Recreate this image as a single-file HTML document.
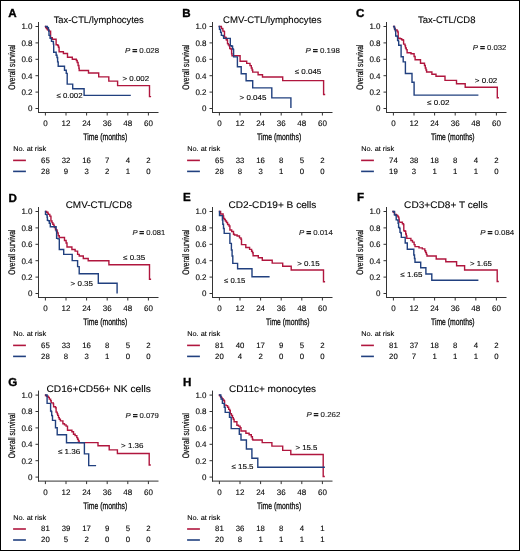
<!DOCTYPE html>
<html><head><meta charset="utf-8"><style>
html,body{margin:0;padding:0;background:#fff;}
body{width:520px;height:551px;overflow:hidden;}
svg{display:block;font-family:'Liberation Sans', sans-serif;will-change:transform;}
text{stroke:#1a1a1a;stroke-width:0.12px;text-rendering:geometricPrecision;}
</style></head><body>
<svg width="520" height="551" viewBox="0 0 520 551">
<rect x="0" y="0" width="520" height="551" fill="#fff"/>
<rect x="0.5" y="0.5" width="519" height="550" fill="none" stroke="#000" stroke-width="1"/>
<text x="8.20" y="17.30" font-size="11.6" font-weight="bold" fill="#000" style="stroke:#000;stroke-width:0.35px">A</text>
<text x="53.70" y="23.00" font-size="9.6" textLength="90.00" lengthAdjust="spacingAndGlyphs">Tax-CTL/lymphocytes</text>
<line x1="38.50" y1="22.00" x2="38.50" y2="113.00" stroke="#333333" stroke-width="1"/>
<line x1="38.00" y1="112.50" x2="158.50" y2="112.50" stroke="#333333" stroke-width="1"/>
<line x1="35.50" y1="108.50" x2="38.50" y2="108.50" stroke="#333333" stroke-width="1"/>
<text x="32.50" y="111.30" font-size="8.0" text-anchor="end">0</text>
<line x1="35.50" y1="92.10" x2="38.50" y2="92.10" stroke="#333333" stroke-width="1"/>
<text x="32.50" y="94.90" font-size="8.0" text-anchor="end">0.2</text>
<line x1="35.50" y1="75.70" x2="38.50" y2="75.70" stroke="#333333" stroke-width="1"/>
<text x="32.50" y="78.50" font-size="8.0" text-anchor="end">0.4</text>
<line x1="35.50" y1="59.30" x2="38.50" y2="59.30" stroke="#333333" stroke-width="1"/>
<text x="32.50" y="62.10" font-size="8.0" text-anchor="end">0.6</text>
<line x1="35.50" y1="42.90" x2="38.50" y2="42.90" stroke="#333333" stroke-width="1"/>
<text x="32.50" y="45.70" font-size="8.0" text-anchor="end">0.8</text>
<line x1="35.50" y1="26.50" x2="38.50" y2="26.50" stroke="#333333" stroke-width="1"/>
<text x="32.50" y="29.30" font-size="8.0" text-anchor="end">1.0</text>
<line x1="45.40" y1="112.50" x2="45.40" y2="115.50" stroke="#333333" stroke-width="1"/>
<text x="45.40" y="126.30" font-size="8.0" text-anchor="middle">0</text>
<line x1="66.00" y1="112.50" x2="66.00" y2="115.50" stroke="#333333" stroke-width="1"/>
<text x="66.00" y="126.30" font-size="8.0" text-anchor="middle">12</text>
<line x1="86.60" y1="112.50" x2="86.60" y2="115.50" stroke="#333333" stroke-width="1"/>
<text x="86.60" y="126.30" font-size="8.0" text-anchor="middle">24</text>
<line x1="107.20" y1="112.50" x2="107.20" y2="115.50" stroke="#333333" stroke-width="1"/>
<text x="107.20" y="126.30" font-size="8.0" text-anchor="middle">36</text>
<line x1="127.80" y1="112.50" x2="127.80" y2="115.50" stroke="#333333" stroke-width="1"/>
<text x="127.80" y="126.30" font-size="8.0" text-anchor="middle">48</text>
<line x1="148.40" y1="112.50" x2="148.40" y2="115.50" stroke="#333333" stroke-width="1"/>
<text x="148.40" y="126.30" font-size="8.0" text-anchor="middle">60</text>
<text x="0.00" y="0.00" font-size="9.5" text-anchor="middle" textLength="45.20" lengthAdjust="spacingAndGlyphs" style="stroke-width:0.22px" transform="translate(15.20 67.10) rotate(-90)">Overall survival</text>
<text x="83.30" y="139.80" font-size="9.6" textLength="44.00" lengthAdjust="spacingAndGlyphs" style="stroke-width:0.3px">Time (months)</text>
<text x="125.00" y="53.00" font-size="7.2" textLength="34.15" lengthAdjust="spacingAndGlyphs" fill="#1a1a1a"><tspan font-style="italic">P</tspan> <tspan style="stroke-width:0.7px">=</tspan> 0.028</text>
<text x="122.50" y="80.60" font-size="7.2" textLength="26.65" lengthAdjust="spacingAndGlyphs">&gt; 0.002</text>
<text x="56.50" y="98.00" font-size="7.2" textLength="26.10" lengthAdjust="spacingAndGlyphs">≤ 0.002</text>
<path d="M45.50 26.50H45.70V27.50H46.50V28.50H47.30V29.50H48.20V30.30H49.20V31.10H50.60V37.60H52.30V39.20H56.10V44.70H57.70V45.50H58.50V47.20H59.10V51.75H63.40V53.50H67.50V57.20H72.30V59.25H76.35V60.50H77.20V62.50H78.10V65.50H78.90V68.20H79.20V70.50H88.50V73.00H98.70V76.90H108.80V81.10H117.60V85.60H149.50V96.60h0.9" fill="none" stroke="#b0163e" stroke-width="1.4" stroke-linejoin="miter" stroke-linecap="square"/>
<path d="M45.60 26.50H46.80V26.50H47.40V27.80H48.40V29.40H48.70V31.10H49.00V35.40H50.10V38.40H51.30V38.70H51.50V41.40H53.20V41.70H53.40V44.10H53.70V52.30H56.15V55.20H57.00V57.50H57.60V61.85H58.20V66.20H64.50V70.20H66.25V73.40H67.20V84.10H72.70V88.70H84.10V95.40H130.10" fill="none" stroke="#21407f" stroke-width="1.4" stroke-linejoin="miter" stroke-linecap="square"/>
<text x="13.20" y="151.40" font-size="7.0" textLength="33.00" lengthAdjust="spacingAndGlyphs">No. at risk</text>
<line x1="13.10" y1="160.40" x2="25.90" y2="160.40" stroke="#b0163e" stroke-width="1.6"/>
<line x1="13.10" y1="171.40" x2="25.90" y2="171.40" stroke="#21407f" stroke-width="1.6"/>
<text x="45.40" y="162.50" font-size="7.8" text-anchor="middle">65</text>
<text x="45.40" y="173.50" font-size="7.8" text-anchor="middle">28</text>
<text x="66.00" y="162.50" font-size="7.8" text-anchor="middle">32</text>
<text x="66.00" y="173.50" font-size="7.8" text-anchor="middle">9</text>
<text x="86.60" y="162.50" font-size="7.8" text-anchor="middle">16</text>
<text x="86.60" y="173.50" font-size="7.8" text-anchor="middle">3</text>
<text x="107.20" y="162.50" font-size="7.8" text-anchor="middle">7</text>
<text x="107.20" y="173.50" font-size="7.8" text-anchor="middle">2</text>
<text x="127.80" y="162.50" font-size="7.8" text-anchor="middle">4</text>
<text x="127.80" y="173.50" font-size="7.8" text-anchor="middle">1</text>
<text x="148.40" y="162.50" font-size="7.8" text-anchor="middle">2</text>
<text x="148.40" y="173.50" font-size="7.8" text-anchor="middle">0</text>
<text x="182.20" y="17.20" font-size="11.6" font-weight="bold" fill="#000" style="stroke:#000;stroke-width:0.35px">B</text>
<text x="223.10" y="23.10" font-size="9.6" textLength="98.40" lengthAdjust="spacingAndGlyphs">CMV-CTL/lymphocytes</text>
<line x1="212.50" y1="22.00" x2="212.50" y2="113.00" stroke="#333333" stroke-width="1"/>
<line x1="212.00" y1="112.50" x2="332.50" y2="112.50" stroke="#333333" stroke-width="1"/>
<line x1="209.50" y1="108.50" x2="212.50" y2="108.50" stroke="#333333" stroke-width="1"/>
<text x="206.50" y="111.30" font-size="8.0" text-anchor="end">0</text>
<line x1="209.50" y1="92.10" x2="212.50" y2="92.10" stroke="#333333" stroke-width="1"/>
<text x="206.50" y="94.90" font-size="8.0" text-anchor="end">0.2</text>
<line x1="209.50" y1="75.70" x2="212.50" y2="75.70" stroke="#333333" stroke-width="1"/>
<text x="206.50" y="78.50" font-size="8.0" text-anchor="end">0.4</text>
<line x1="209.50" y1="59.30" x2="212.50" y2="59.30" stroke="#333333" stroke-width="1"/>
<text x="206.50" y="62.10" font-size="8.0" text-anchor="end">0.6</text>
<line x1="209.50" y1="42.90" x2="212.50" y2="42.90" stroke="#333333" stroke-width="1"/>
<text x="206.50" y="45.70" font-size="8.0" text-anchor="end">0.8</text>
<line x1="209.50" y1="26.50" x2="212.50" y2="26.50" stroke="#333333" stroke-width="1"/>
<text x="206.50" y="29.30" font-size="8.0" text-anchor="end">1.0</text>
<line x1="219.40" y1="112.50" x2="219.40" y2="115.50" stroke="#333333" stroke-width="1"/>
<text x="219.40" y="126.30" font-size="8.0" text-anchor="middle">0</text>
<line x1="240.00" y1="112.50" x2="240.00" y2="115.50" stroke="#333333" stroke-width="1"/>
<text x="240.00" y="126.30" font-size="8.0" text-anchor="middle">12</text>
<line x1="260.60" y1="112.50" x2="260.60" y2="115.50" stroke="#333333" stroke-width="1"/>
<text x="260.60" y="126.30" font-size="8.0" text-anchor="middle">24</text>
<line x1="281.20" y1="112.50" x2="281.20" y2="115.50" stroke="#333333" stroke-width="1"/>
<text x="281.20" y="126.30" font-size="8.0" text-anchor="middle">36</text>
<line x1="301.80" y1="112.50" x2="301.80" y2="115.50" stroke="#333333" stroke-width="1"/>
<text x="301.80" y="126.30" font-size="8.0" text-anchor="middle">48</text>
<line x1="322.40" y1="112.50" x2="322.40" y2="115.50" stroke="#333333" stroke-width="1"/>
<text x="322.40" y="126.30" font-size="8.0" text-anchor="middle">60</text>
<text x="0.00" y="0.00" font-size="9.5" text-anchor="middle" textLength="45.20" lengthAdjust="spacingAndGlyphs" style="stroke-width:0.22px" transform="translate(189.20 67.10) rotate(-90)">Overall survival</text>
<text x="257.00" y="139.60" font-size="9.6" textLength="44.20" lengthAdjust="spacingAndGlyphs" style="stroke-width:0.3px">Time (months)</text>
<text x="305.60" y="52.90" font-size="7.2" textLength="34.30" lengthAdjust="spacingAndGlyphs" fill="#1a1a1a"><tspan font-style="italic">P</tspan> <tspan style="stroke-width:0.7px">=</tspan> 0.198</text>
<text x="294.70" y="74.40" font-size="7.2" textLength="26.60" lengthAdjust="spacingAndGlyphs">≤ 0.045</text>
<text x="239.60" y="99.75" font-size="7.2" textLength="26.80" lengthAdjust="spacingAndGlyphs">&gt; 0.045</text>
<path d="M219.30 26.50H221.40V28.40H222.60V28.90H222.90V31.10H224.20V31.60H224.50V37.10H225.80V37.60H226.20V39.80H227.20V40.30H227.50V43.60H228.30V44.70H229.10V45.80H229.70V48.50H231.10V49.30H231.60V53.70H232.00V55.80H240.10V61.20H246.70V63.40H250.00V65.60H251.30V68.00H252.10V70.00H252.70V72.10H258.10V74.80H262.50V77.00H282.70V80.60H323.60V94.50h0.9" fill="none" stroke="#b0163e" stroke-width="1.4" stroke-linejoin="miter" stroke-linecap="square"/>
<path d="M219.30 26.50H219.50V29.40H220.40V29.70H220.60V32.40H221.40V32.70H221.40V35.40H223.10V35.70H223.60V38.40H230.30V45.80H231.80V46.30H232.60V49.00H233.40V49.60H233.60V56.90H237.40V66.70H241.20V73.70H246.10V80.80H252.70V87.90H271.80V97.90H290.90V107.40" fill="none" stroke="#21407f" stroke-width="1.4" stroke-linejoin="miter" stroke-linecap="square"/>
<text x="187.20" y="151.40" font-size="7.0" textLength="33.00" lengthAdjust="spacingAndGlyphs">No. at risk</text>
<line x1="187.10" y1="160.40" x2="199.90" y2="160.40" stroke="#b0163e" stroke-width="1.6"/>
<line x1="187.10" y1="171.40" x2="199.90" y2="171.40" stroke="#21407f" stroke-width="1.6"/>
<text x="219.40" y="162.50" font-size="7.8" text-anchor="middle">65</text>
<text x="219.40" y="173.50" font-size="7.8" text-anchor="middle">28</text>
<text x="240.00" y="162.50" font-size="7.8" text-anchor="middle">33</text>
<text x="240.00" y="173.50" font-size="7.8" text-anchor="middle">8</text>
<text x="260.60" y="162.50" font-size="7.8" text-anchor="middle">16</text>
<text x="260.60" y="173.50" font-size="7.8" text-anchor="middle">3</text>
<text x="281.20" y="162.50" font-size="7.8" text-anchor="middle">8</text>
<text x="281.20" y="173.50" font-size="7.8" text-anchor="middle">1</text>
<text x="301.80" y="162.50" font-size="7.8" text-anchor="middle">5</text>
<text x="301.80" y="173.50" font-size="7.8" text-anchor="middle">0</text>
<text x="322.40" y="162.50" font-size="7.8" text-anchor="middle">2</text>
<text x="322.40" y="173.50" font-size="7.8" text-anchor="middle">0</text>
<text x="355.90" y="17.40" font-size="11.6" font-weight="bold" fill="#000" style="stroke:#000;stroke-width:0.35px">C</text>
<text x="418.00" y="23.40" font-size="9.6" textLength="57.40" lengthAdjust="spacingAndGlyphs">Tax-CTL/CD8</text>
<line x1="386.50" y1="22.00" x2="386.50" y2="113.00" stroke="#333333" stroke-width="1"/>
<line x1="386.00" y1="112.50" x2="506.50" y2="112.50" stroke="#333333" stroke-width="1"/>
<line x1="383.50" y1="108.50" x2="386.50" y2="108.50" stroke="#333333" stroke-width="1"/>
<text x="380.50" y="111.30" font-size="8.0" text-anchor="end">0</text>
<line x1="383.50" y1="92.10" x2="386.50" y2="92.10" stroke="#333333" stroke-width="1"/>
<text x="380.50" y="94.90" font-size="8.0" text-anchor="end">0.2</text>
<line x1="383.50" y1="75.70" x2="386.50" y2="75.70" stroke="#333333" stroke-width="1"/>
<text x="380.50" y="78.50" font-size="8.0" text-anchor="end">0.4</text>
<line x1="383.50" y1="59.30" x2="386.50" y2="59.30" stroke="#333333" stroke-width="1"/>
<text x="380.50" y="62.10" font-size="8.0" text-anchor="end">0.6</text>
<line x1="383.50" y1="42.90" x2="386.50" y2="42.90" stroke="#333333" stroke-width="1"/>
<text x="380.50" y="45.70" font-size="8.0" text-anchor="end">0.8</text>
<line x1="383.50" y1="26.50" x2="386.50" y2="26.50" stroke="#333333" stroke-width="1"/>
<text x="380.50" y="29.30" font-size="8.0" text-anchor="end">1.0</text>
<line x1="393.40" y1="112.50" x2="393.40" y2="115.50" stroke="#333333" stroke-width="1"/>
<text x="393.40" y="126.30" font-size="8.0" text-anchor="middle">0</text>
<line x1="414.00" y1="112.50" x2="414.00" y2="115.50" stroke="#333333" stroke-width="1"/>
<text x="414.00" y="126.30" font-size="8.0" text-anchor="middle">12</text>
<line x1="434.60" y1="112.50" x2="434.60" y2="115.50" stroke="#333333" stroke-width="1"/>
<text x="434.60" y="126.30" font-size="8.0" text-anchor="middle">24</text>
<line x1="455.20" y1="112.50" x2="455.20" y2="115.50" stroke="#333333" stroke-width="1"/>
<text x="455.20" y="126.30" font-size="8.0" text-anchor="middle">36</text>
<line x1="475.80" y1="112.50" x2="475.80" y2="115.50" stroke="#333333" stroke-width="1"/>
<text x="475.80" y="126.30" font-size="8.0" text-anchor="middle">48</text>
<line x1="496.40" y1="112.50" x2="496.40" y2="115.50" stroke="#333333" stroke-width="1"/>
<text x="496.40" y="126.30" font-size="8.0" text-anchor="middle">60</text>
<text x="0.00" y="0.00" font-size="9.5" text-anchor="middle" textLength="45.20" lengthAdjust="spacingAndGlyphs" style="stroke-width:0.22px" transform="translate(363.20 67.10) rotate(-90)">Overall survival</text>
<text x="431.00" y="139.80" font-size="9.6" textLength="43.60" lengthAdjust="spacingAndGlyphs" style="stroke-width:0.3px">Time (months)</text>
<text x="472.80" y="50.20" font-size="7.2" textLength="33.60" lengthAdjust="spacingAndGlyphs" fill="#1a1a1a"><tspan font-style="italic">P</tspan> <tspan style="stroke-width:0.7px">=</tspan> 0.032</text>
<text x="474.80" y="83.30" font-size="7.2" textLength="22.50" lengthAdjust="spacingAndGlyphs">&gt; 0.02</text>
<text x="427.10" y="104.90" font-size="7.2" textLength="22.40" lengthAdjust="spacingAndGlyphs">≤ 0.02</text>
<path d="M393.60 26.50H394.50V28.50H395.20V30.00H397.10V31.10H397.90V32.20H398.20V38.20H400.10V38.70H401.70V39.80H403.10V40.30H403.60V44.10H405.00V45.80H405.50V48.00H406.30V49.60H407.10V52.70H411.00V53.70H414.10V56.50H415.10V59.80H420.50V63.20H424.50V65.50H425.30V68.00H426.00V70.00H426.60V72.00H431.90V74.30H436.00V76.30H445.00V80.40H456.50V83.80H465.20V87.30H497.30V97.70h0.9" fill="none" stroke="#b0163e" stroke-width="1.4" stroke-linejoin="miter" stroke-linecap="square"/>
<path d="M393.80 26.50H394.30V27.50H394.60V29.40H395.40V31.10H395.70V36.00H397.10V36.50H397.60V40.30H398.40V41.40H398.70V45.20H401.10V56.80H403.20V61.90H405.40V73.50H412.00V82.20H414.10V95.10H477.70" fill="none" stroke="#21407f" stroke-width="1.4" stroke-linejoin="miter" stroke-linecap="square"/>
<text x="361.20" y="151.40" font-size="7.0" textLength="33.00" lengthAdjust="spacingAndGlyphs">No. at risk</text>
<line x1="361.10" y1="160.40" x2="373.90" y2="160.40" stroke="#b0163e" stroke-width="1.6"/>
<line x1="361.10" y1="171.40" x2="373.90" y2="171.40" stroke="#21407f" stroke-width="1.6"/>
<text x="393.40" y="162.50" font-size="7.8" text-anchor="middle">74</text>
<text x="393.40" y="173.50" font-size="7.8" text-anchor="middle">19</text>
<text x="414.00" y="162.50" font-size="7.8" text-anchor="middle">38</text>
<text x="414.00" y="173.50" font-size="7.8" text-anchor="middle">3</text>
<text x="434.60" y="162.50" font-size="7.8" text-anchor="middle">18</text>
<text x="434.60" y="173.50" font-size="7.8" text-anchor="middle">1</text>
<text x="455.20" y="162.50" font-size="7.8" text-anchor="middle">8</text>
<text x="455.20" y="173.50" font-size="7.8" text-anchor="middle">1</text>
<text x="475.80" y="162.50" font-size="7.8" text-anchor="middle">4</text>
<text x="475.80" y="173.50" font-size="7.8" text-anchor="middle">1</text>
<text x="496.40" y="162.50" font-size="7.8" text-anchor="middle">2</text>
<text x="496.40" y="173.50" font-size="7.8" text-anchor="middle">0</text>
<text x="8.50" y="202.00" font-size="11.6" font-weight="bold" fill="#000" style="stroke:#000;stroke-width:0.35px">D</text>
<text x="65.70" y="208.20" font-size="9.6" textLength="66.30" lengthAdjust="spacingAndGlyphs">CMV-CTL/CD8</text>
<line x1="38.50" y1="207.00" x2="38.50" y2="298.00" stroke="#333333" stroke-width="1"/>
<line x1="38.00" y1="297.50" x2="158.50" y2="297.50" stroke="#333333" stroke-width="1"/>
<line x1="35.50" y1="293.50" x2="38.50" y2="293.50" stroke="#333333" stroke-width="1"/>
<text x="32.50" y="296.30" font-size="8.0" text-anchor="end">0</text>
<line x1="35.50" y1="277.10" x2="38.50" y2="277.10" stroke="#333333" stroke-width="1"/>
<text x="32.50" y="279.90" font-size="8.0" text-anchor="end">0.2</text>
<line x1="35.50" y1="260.70" x2="38.50" y2="260.70" stroke="#333333" stroke-width="1"/>
<text x="32.50" y="263.50" font-size="8.0" text-anchor="end">0.4</text>
<line x1="35.50" y1="244.30" x2="38.50" y2="244.30" stroke="#333333" stroke-width="1"/>
<text x="32.50" y="247.10" font-size="8.0" text-anchor="end">0.6</text>
<line x1="35.50" y1="227.90" x2="38.50" y2="227.90" stroke="#333333" stroke-width="1"/>
<text x="32.50" y="230.70" font-size="8.0" text-anchor="end">0.8</text>
<line x1="35.50" y1="211.50" x2="38.50" y2="211.50" stroke="#333333" stroke-width="1"/>
<text x="32.50" y="214.30" font-size="8.0" text-anchor="end">1.0</text>
<line x1="45.40" y1="297.50" x2="45.40" y2="300.50" stroke="#333333" stroke-width="1"/>
<text x="45.40" y="311.30" font-size="8.0" text-anchor="middle">0</text>
<line x1="66.00" y1="297.50" x2="66.00" y2="300.50" stroke="#333333" stroke-width="1"/>
<text x="66.00" y="311.30" font-size="8.0" text-anchor="middle">12</text>
<line x1="86.60" y1="297.50" x2="86.60" y2="300.50" stroke="#333333" stroke-width="1"/>
<text x="86.60" y="311.30" font-size="8.0" text-anchor="middle">24</text>
<line x1="107.20" y1="297.50" x2="107.20" y2="300.50" stroke="#333333" stroke-width="1"/>
<text x="107.20" y="311.30" font-size="8.0" text-anchor="middle">36</text>
<line x1="127.80" y1="297.50" x2="127.80" y2="300.50" stroke="#333333" stroke-width="1"/>
<text x="127.80" y="311.30" font-size="8.0" text-anchor="middle">48</text>
<line x1="148.40" y1="297.50" x2="148.40" y2="300.50" stroke="#333333" stroke-width="1"/>
<text x="148.40" y="311.30" font-size="8.0" text-anchor="middle">60</text>
<text x="0.00" y="0.00" font-size="9.5" text-anchor="middle" textLength="45.20" lengthAdjust="spacingAndGlyphs" style="stroke-width:0.22px" transform="translate(15.20 252.10) rotate(-90)">Overall survival</text>
<text x="83.30" y="324.80" font-size="9.6" textLength="44.00" lengthAdjust="spacingAndGlyphs" style="stroke-width:0.3px">Time (months)</text>
<text x="132.40" y="235.00" font-size="7.2" textLength="32.90" lengthAdjust="spacingAndGlyphs" fill="#1a1a1a"><tspan font-style="italic">P</tspan> <tspan style="stroke-width:0.7px">=</tspan> 0.081</text>
<text x="123.10" y="259.70" font-size="7.2" textLength="22.10" lengthAdjust="spacingAndGlyphs">≤ 0.35</text>
<text x="70.60" y="285.80" font-size="7.2" textLength="22.40" lengthAdjust="spacingAndGlyphs">&gt; 0.35</text>
<path d="M45.60 211.50H46.60V212.20H47.90V213.40H48.40V214.40H49.80V216.10H50.90V216.90H50.95V221.00H52.00V222.60H52.80V224.20H53.90V225.90H54.40V227.50H55.50V229.70H56.90V231.30H57.40V233.00H58.20V235.70H59.30V237.50H64.50V240.50H66.10V243.00H67.00V247.00H71.90V249.50H75.10V251.10H77.60V254.40H79.20V256.00H83.30V258.50H88.20V260.80H108.90V264.80H149.50V279.20h0.9" fill="none" stroke="#b0163e" stroke-width="1.4" stroke-linejoin="miter" stroke-linecap="square"/>
<path d="M45.50 211.50H45.50V214.40H46.50V214.70H47.10V217.20H47.40V220.40H48.40V220.70H49.30V223.20H50.30V226.70H56.10V230.80H56.60V238.40H58.00V238.90H59.30V249.50H63.70V254.40H72.20V260.60H77.60V266.60H79.20V273.80H98.30V283.30H117.10V292.70" fill="none" stroke="#21407f" stroke-width="1.4" stroke-linejoin="miter" stroke-linecap="square"/>
<text x="13.20" y="336.40" font-size="7.0" textLength="33.00" lengthAdjust="spacingAndGlyphs">No. at risk</text>
<line x1="13.10" y1="345.40" x2="25.90" y2="345.40" stroke="#b0163e" stroke-width="1.6"/>
<line x1="13.10" y1="356.40" x2="25.90" y2="356.40" stroke="#21407f" stroke-width="1.6"/>
<text x="45.40" y="347.50" font-size="7.8" text-anchor="middle">65</text>
<text x="45.40" y="358.50" font-size="7.8" text-anchor="middle">28</text>
<text x="66.00" y="347.50" font-size="7.8" text-anchor="middle">33</text>
<text x="66.00" y="358.50" font-size="7.8" text-anchor="middle">8</text>
<text x="86.60" y="347.50" font-size="7.8" text-anchor="middle">16</text>
<text x="86.60" y="358.50" font-size="7.8" text-anchor="middle">3</text>
<text x="107.20" y="347.50" font-size="7.8" text-anchor="middle">8</text>
<text x="107.20" y="358.50" font-size="7.8" text-anchor="middle">1</text>
<text x="127.80" y="347.50" font-size="7.8" text-anchor="middle">5</text>
<text x="127.80" y="358.50" font-size="7.8" text-anchor="middle">0</text>
<text x="148.40" y="347.50" font-size="7.8" text-anchor="middle">2</text>
<text x="148.40" y="358.50" font-size="7.8" text-anchor="middle">0</text>
<text x="182.90" y="200.75" font-size="11.6" font-weight="bold" fill="#000" style="stroke:#000;stroke-width:0.35px">E</text>
<text x="228.50" y="208.20" font-size="9.6" textLength="87.90" lengthAdjust="spacingAndGlyphs">CD2-CD19+ B cells</text>
<line x1="212.50" y1="207.00" x2="212.50" y2="298.00" stroke="#333333" stroke-width="1"/>
<line x1="212.00" y1="297.50" x2="332.50" y2="297.50" stroke="#333333" stroke-width="1"/>
<line x1="209.50" y1="293.50" x2="212.50" y2="293.50" stroke="#333333" stroke-width="1"/>
<text x="206.50" y="296.30" font-size="8.0" text-anchor="end">0</text>
<line x1="209.50" y1="277.10" x2="212.50" y2="277.10" stroke="#333333" stroke-width="1"/>
<text x="206.50" y="279.90" font-size="8.0" text-anchor="end">0.2</text>
<line x1="209.50" y1="260.70" x2="212.50" y2="260.70" stroke="#333333" stroke-width="1"/>
<text x="206.50" y="263.50" font-size="8.0" text-anchor="end">0.4</text>
<line x1="209.50" y1="244.30" x2="212.50" y2="244.30" stroke="#333333" stroke-width="1"/>
<text x="206.50" y="247.10" font-size="8.0" text-anchor="end">0.6</text>
<line x1="209.50" y1="227.90" x2="212.50" y2="227.90" stroke="#333333" stroke-width="1"/>
<text x="206.50" y="230.70" font-size="8.0" text-anchor="end">0.8</text>
<line x1="209.50" y1="211.50" x2="212.50" y2="211.50" stroke="#333333" stroke-width="1"/>
<text x="206.50" y="214.30" font-size="8.0" text-anchor="end">1.0</text>
<line x1="219.40" y1="297.50" x2="219.40" y2="300.50" stroke="#333333" stroke-width="1"/>
<text x="219.40" y="311.30" font-size="8.0" text-anchor="middle">0</text>
<line x1="240.00" y1="297.50" x2="240.00" y2="300.50" stroke="#333333" stroke-width="1"/>
<text x="240.00" y="311.30" font-size="8.0" text-anchor="middle">12</text>
<line x1="260.60" y1="297.50" x2="260.60" y2="300.50" stroke="#333333" stroke-width="1"/>
<text x="260.60" y="311.30" font-size="8.0" text-anchor="middle">24</text>
<line x1="281.20" y1="297.50" x2="281.20" y2="300.50" stroke="#333333" stroke-width="1"/>
<text x="281.20" y="311.30" font-size="8.0" text-anchor="middle">36</text>
<line x1="301.80" y1="297.50" x2="301.80" y2="300.50" stroke="#333333" stroke-width="1"/>
<text x="301.80" y="311.30" font-size="8.0" text-anchor="middle">48</text>
<line x1="322.40" y1="297.50" x2="322.40" y2="300.50" stroke="#333333" stroke-width="1"/>
<text x="322.40" y="311.30" font-size="8.0" text-anchor="middle">60</text>
<text x="0.00" y="0.00" font-size="9.5" text-anchor="middle" textLength="45.20" lengthAdjust="spacingAndGlyphs" style="stroke-width:0.22px" transform="translate(189.20 252.10) rotate(-90)">Overall survival</text>
<text x="266.00" y="324.80" font-size="9.6" textLength="43.60" lengthAdjust="spacingAndGlyphs" style="stroke-width:0.3px">Time (months)</text>
<text x="299.10" y="234.60" font-size="7.2" textLength="33.70" lengthAdjust="spacingAndGlyphs" fill="#1a1a1a"><tspan font-style="italic">P</tspan> <tspan style="stroke-width:0.7px">=</tspan> 0.014</text>
<text x="297.20" y="265.70" font-size="7.2" textLength="22.40" lengthAdjust="spacingAndGlyphs">&gt; 0.15</text>
<text x="224.00" y="282.50" font-size="7.2" textLength="21.40" lengthAdjust="spacingAndGlyphs">≤ 0.15</text>
<path d="M219.50 211.50H220.60V214.00H223.10V216.00H223.60V218.50H224.50V219.50H225.40V221.00H226.50V222.50H227.60V224.50H229.00V226.00H229.90V230.00H231.70V231.50H233.50V234.30H234.50V235.00H237.10V236.00H239.50V237.90H241.00V239.30H241.50V244.60H245.80V247.50H249.60V249.40H251.60V251.30H252.50V252.80H253.10V255.70H258.30V257.80H262.30V260.20H272.20V263.10H282.70V266.20H291.20V270.00H323.50V281.80h0.9" fill="none" stroke="#b0163e" stroke-width="1.4" stroke-linejoin="miter" stroke-linecap="square"/>
<path d="M219.50 211.50H219.50V215.60H222.40V220.00H222.80V224.30H223.50V228.50H224.20V233.40H229.90V243.40H231.40V250.00H232.10V256.00H232.80V263.40H237.60V268.80H252.00V276.80H268.90" fill="none" stroke="#21407f" stroke-width="1.4" stroke-linejoin="miter" stroke-linecap="square"/>
<text x="187.20" y="336.40" font-size="7.0" textLength="33.00" lengthAdjust="spacingAndGlyphs">No. at risk</text>
<line x1="187.10" y1="345.40" x2="199.90" y2="345.40" stroke="#b0163e" stroke-width="1.6"/>
<line x1="187.10" y1="356.40" x2="199.90" y2="356.40" stroke="#21407f" stroke-width="1.6"/>
<text x="219.40" y="347.50" font-size="7.8" text-anchor="middle">81</text>
<text x="219.40" y="358.50" font-size="7.8" text-anchor="middle">20</text>
<text x="240.00" y="347.50" font-size="7.8" text-anchor="middle">40</text>
<text x="240.00" y="358.50" font-size="7.8" text-anchor="middle">4</text>
<text x="260.60" y="347.50" font-size="7.8" text-anchor="middle">17</text>
<text x="260.60" y="358.50" font-size="7.8" text-anchor="middle">2</text>
<text x="281.20" y="347.50" font-size="7.8" text-anchor="middle">9</text>
<text x="281.20" y="358.50" font-size="7.8" text-anchor="middle">0</text>
<text x="301.80" y="347.50" font-size="7.8" text-anchor="middle">5</text>
<text x="301.80" y="358.50" font-size="7.8" text-anchor="middle">0</text>
<text x="322.40" y="347.50" font-size="7.8" text-anchor="middle">2</text>
<text x="322.40" y="358.50" font-size="7.8" text-anchor="middle">0</text>
<text x="357.00" y="200.75" font-size="11.6" font-weight="bold" fill="#000" style="stroke:#000;stroke-width:0.35px">F</text>
<text x="404.10" y="208.30" font-size="9.6" textLength="83.80" lengthAdjust="spacingAndGlyphs">CD3+CD8+ T cells</text>
<line x1="386.50" y1="207.00" x2="386.50" y2="298.00" stroke="#333333" stroke-width="1"/>
<line x1="386.00" y1="297.50" x2="506.50" y2="297.50" stroke="#333333" stroke-width="1"/>
<line x1="383.50" y1="293.50" x2="386.50" y2="293.50" stroke="#333333" stroke-width="1"/>
<text x="380.50" y="296.30" font-size="8.0" text-anchor="end">0</text>
<line x1="383.50" y1="277.10" x2="386.50" y2="277.10" stroke="#333333" stroke-width="1"/>
<text x="380.50" y="279.90" font-size="8.0" text-anchor="end">0.2</text>
<line x1="383.50" y1="260.70" x2="386.50" y2="260.70" stroke="#333333" stroke-width="1"/>
<text x="380.50" y="263.50" font-size="8.0" text-anchor="end">0.4</text>
<line x1="383.50" y1="244.30" x2="386.50" y2="244.30" stroke="#333333" stroke-width="1"/>
<text x="380.50" y="247.10" font-size="8.0" text-anchor="end">0.6</text>
<line x1="383.50" y1="227.90" x2="386.50" y2="227.90" stroke="#333333" stroke-width="1"/>
<text x="380.50" y="230.70" font-size="8.0" text-anchor="end">0.8</text>
<line x1="383.50" y1="211.50" x2="386.50" y2="211.50" stroke="#333333" stroke-width="1"/>
<text x="380.50" y="214.30" font-size="8.0" text-anchor="end">1.0</text>
<line x1="393.40" y1="297.50" x2="393.40" y2="300.50" stroke="#333333" stroke-width="1"/>
<text x="393.40" y="311.30" font-size="8.0" text-anchor="middle">0</text>
<line x1="414.00" y1="297.50" x2="414.00" y2="300.50" stroke="#333333" stroke-width="1"/>
<text x="414.00" y="311.30" font-size="8.0" text-anchor="middle">12</text>
<line x1="434.60" y1="297.50" x2="434.60" y2="300.50" stroke="#333333" stroke-width="1"/>
<text x="434.60" y="311.30" font-size="8.0" text-anchor="middle">24</text>
<line x1="455.20" y1="297.50" x2="455.20" y2="300.50" stroke="#333333" stroke-width="1"/>
<text x="455.20" y="311.30" font-size="8.0" text-anchor="middle">36</text>
<line x1="475.80" y1="297.50" x2="475.80" y2="300.50" stroke="#333333" stroke-width="1"/>
<text x="475.80" y="311.30" font-size="8.0" text-anchor="middle">48</text>
<line x1="496.40" y1="297.50" x2="496.40" y2="300.50" stroke="#333333" stroke-width="1"/>
<text x="496.40" y="311.30" font-size="8.0" text-anchor="middle">60</text>
<text x="0.00" y="0.00" font-size="9.5" text-anchor="middle" textLength="45.20" lengthAdjust="spacingAndGlyphs" style="stroke-width:0.22px" transform="translate(363.20 252.10) rotate(-90)">Overall survival</text>
<text x="431.00" y="324.80" font-size="9.6" textLength="43.60" lengthAdjust="spacingAndGlyphs" style="stroke-width:0.3px">Time (months)</text>
<text x="480.20" y="235.10" font-size="7.2" textLength="34.00" lengthAdjust="spacingAndGlyphs" fill="#1a1a1a"><tspan font-style="italic">P</tspan> <tspan style="stroke-width:0.7px">=</tspan> 0.084</text>
<text x="470.10" y="265.70" font-size="7.2" textLength="21.80" lengthAdjust="spacingAndGlyphs">&gt; 1.65</text>
<text x="400.30" y="276.90" font-size="7.2" textLength="22.10" lengthAdjust="spacingAndGlyphs">≤ 1.65</text>
<path d="M393.00 211.50H393.50V212.30H394.50V214.40H396.40V215.30H397.50V216.10H398.30V217.20H398.90V219.30H399.20V222.10H400.80V222.30H402.40V223.70H403.50V224.80H403.80V230.80H404.90V231.30H405.70V234.00H406.30V236.00H406.80V238.40H410.90V240.50H412.50V242.10H414.10V244.60H415.00V246.60H419.00V247.90H422.30V248.90H424.80V250.80H425.60V252.50H426.40V254.40H427.00V256.00H436.20V259.00H445.80V261.80H456.60V265.70H464.60V270.00H497.20V281.50h0.9" fill="none" stroke="#b0163e" stroke-width="1.4" stroke-linejoin="miter" stroke-linecap="square"/>
<path d="M393.00 211.50H394.50V215.00H395.90V215.50H396.20V219.90H397.80V220.40H398.10V223.20H398.60V227.50H399.70V228.60H400.00V232.40H400.80V233.00H401.30V237.40H405.20V243.00H407.30V249.20H413.80V255.00H414.50V258.50H415.00V262.20H420.70V267.80H425.90V274.00H431.80V280.20H477.70" fill="none" stroke="#21407f" stroke-width="1.4" stroke-linejoin="miter" stroke-linecap="square"/>
<text x="361.20" y="336.40" font-size="7.0" textLength="33.00" lengthAdjust="spacingAndGlyphs">No. at risk</text>
<line x1="361.10" y1="345.40" x2="373.90" y2="345.40" stroke="#b0163e" stroke-width="1.6"/>
<line x1="361.10" y1="356.40" x2="373.90" y2="356.40" stroke="#21407f" stroke-width="1.6"/>
<text x="393.40" y="347.50" font-size="7.8" text-anchor="middle">81</text>
<text x="393.40" y="358.50" font-size="7.8" text-anchor="middle">20</text>
<text x="414.00" y="347.50" font-size="7.8" text-anchor="middle">37</text>
<text x="414.00" y="358.50" font-size="7.8" text-anchor="middle">7</text>
<text x="434.60" y="347.50" font-size="7.8" text-anchor="middle">18</text>
<text x="434.60" y="358.50" font-size="7.8" text-anchor="middle">1</text>
<text x="455.20" y="347.50" font-size="7.8" text-anchor="middle">8</text>
<text x="455.20" y="358.50" font-size="7.8" text-anchor="middle">1</text>
<text x="475.80" y="347.50" font-size="7.8" text-anchor="middle">4</text>
<text x="475.80" y="358.50" font-size="7.8" text-anchor="middle">1</text>
<text x="496.40" y="347.50" font-size="7.8" text-anchor="middle">2</text>
<text x="496.40" y="358.50" font-size="7.8" text-anchor="middle">0</text>
<text x="8.20" y="385.60" font-size="11.6" font-weight="bold" fill="#000" style="stroke:#000;stroke-width:0.35px">G</text>
<text x="46.40" y="391.90" font-size="9.6" textLength="104.50" lengthAdjust="spacingAndGlyphs">CD16+CD56+ NK cells</text>
<line x1="38.50" y1="390.60" x2="38.50" y2="481.60" stroke="#333333" stroke-width="1"/>
<line x1="38.00" y1="481.10" x2="158.50" y2="481.10" stroke="#333333" stroke-width="1"/>
<line x1="35.50" y1="477.10" x2="38.50" y2="477.10" stroke="#333333" stroke-width="1"/>
<text x="32.50" y="479.90" font-size="8.0" text-anchor="end">0</text>
<line x1="35.50" y1="460.70" x2="38.50" y2="460.70" stroke="#333333" stroke-width="1"/>
<text x="32.50" y="463.50" font-size="8.0" text-anchor="end">0.2</text>
<line x1="35.50" y1="444.30" x2="38.50" y2="444.30" stroke="#333333" stroke-width="1"/>
<text x="32.50" y="447.10" font-size="8.0" text-anchor="end">0.4</text>
<line x1="35.50" y1="427.90" x2="38.50" y2="427.90" stroke="#333333" stroke-width="1"/>
<text x="32.50" y="430.70" font-size="8.0" text-anchor="end">0.6</text>
<line x1="35.50" y1="411.50" x2="38.50" y2="411.50" stroke="#333333" stroke-width="1"/>
<text x="32.50" y="414.30" font-size="8.0" text-anchor="end">0.8</text>
<line x1="35.50" y1="395.10" x2="38.50" y2="395.10" stroke="#333333" stroke-width="1"/>
<text x="32.50" y="397.90" font-size="8.0" text-anchor="end">1.0</text>
<line x1="45.40" y1="481.10" x2="45.40" y2="484.10" stroke="#333333" stroke-width="1"/>
<text x="45.40" y="494.90" font-size="8.0" text-anchor="middle">0</text>
<line x1="66.00" y1="481.10" x2="66.00" y2="484.10" stroke="#333333" stroke-width="1"/>
<text x="66.00" y="494.90" font-size="8.0" text-anchor="middle">12</text>
<line x1="86.60" y1="481.10" x2="86.60" y2="484.10" stroke="#333333" stroke-width="1"/>
<text x="86.60" y="494.90" font-size="8.0" text-anchor="middle">24</text>
<line x1="107.20" y1="481.10" x2="107.20" y2="484.10" stroke="#333333" stroke-width="1"/>
<text x="107.20" y="494.90" font-size="8.0" text-anchor="middle">36</text>
<line x1="127.80" y1="481.10" x2="127.80" y2="484.10" stroke="#333333" stroke-width="1"/>
<text x="127.80" y="494.90" font-size="8.0" text-anchor="middle">48</text>
<line x1="148.40" y1="481.10" x2="148.40" y2="484.10" stroke="#333333" stroke-width="1"/>
<text x="148.40" y="494.90" font-size="8.0" text-anchor="middle">60</text>
<text x="0.00" y="0.00" font-size="9.5" text-anchor="middle" textLength="45.20" lengthAdjust="spacingAndGlyphs" style="stroke-width:0.22px" transform="translate(15.20 435.70) rotate(-90)">Overall survival</text>
<text x="83.30" y="508.80" font-size="9.6" textLength="44.00" lengthAdjust="spacingAndGlyphs" style="stroke-width:0.3px">Time (months)</text>
<text x="125.60" y="417.60" font-size="7.2" textLength="33.30" lengthAdjust="spacingAndGlyphs" fill="#1a1a1a"><tspan font-style="italic">P</tspan> <tspan style="stroke-width:0.7px">=</tspan> 0.079</text>
<text x="121.10" y="447.80" font-size="7.2" textLength="22.40" lengthAdjust="spacingAndGlyphs">&gt; 1.36</text>
<text x="57.90" y="453.90" font-size="7.2" textLength="22.50" lengthAdjust="spacingAndGlyphs">≤ 1.36</text>
<path d="M45.50 395.00H45.50V395.50H46.50V396.30H48.20V397.40H49.30V399.10H50.60V400.70H51.20V402.90H53.30V404.00H53.60V406.70H55.50V407.80H56.10V412.10H57.20V413.80H57.70V415.40H58.50V417.60H59.30V419.20H60.40V420.90H62.90V423.70H64.50V424.90H66.10V426.10H67.50V430.20H71.90V431.80H73.50V434.30H75.10V435.60H76.80V437.60H77.60V439.20H78.40V441.00H79.20V442.60H98.00V445.80H109.20V449.90H117.40V453.50H149.20V465.00h0.9" fill="none" stroke="#b0163e" stroke-width="1.4" stroke-linejoin="miter" stroke-linecap="square"/>
<path d="M45.80 395.00H47.10V395.00H47.10V403.40H50.60V411.00H51.20V411.50H51.70V415.40H52.20V416.00H52.50V420.40H55.50V427.80H57.20V434.80H66.50V442.80H84.40V453.90H88.70V465.60H95.40" fill="none" stroke="#21407f" stroke-width="1.4" stroke-linejoin="miter" stroke-linecap="square"/>
<text x="13.20" y="520.00" font-size="7.0" textLength="33.00" lengthAdjust="spacingAndGlyphs">No. at risk</text>
<line x1="13.10" y1="529.00" x2="25.90" y2="529.00" stroke="#b0163e" stroke-width="1.6"/>
<line x1="13.10" y1="540.00" x2="25.90" y2="540.00" stroke="#21407f" stroke-width="1.6"/>
<text x="45.40" y="531.10" font-size="7.8" text-anchor="middle">81</text>
<text x="45.40" y="542.10" font-size="7.8" text-anchor="middle">20</text>
<text x="66.00" y="531.10" font-size="7.8" text-anchor="middle">39</text>
<text x="66.00" y="542.10" font-size="7.8" text-anchor="middle">5</text>
<text x="86.60" y="531.10" font-size="7.8" text-anchor="middle">17</text>
<text x="86.60" y="542.10" font-size="7.8" text-anchor="middle">2</text>
<text x="107.20" y="531.10" font-size="7.8" text-anchor="middle">9</text>
<text x="107.20" y="542.10" font-size="7.8" text-anchor="middle">0</text>
<text x="127.80" y="531.10" font-size="7.8" text-anchor="middle">5</text>
<text x="127.80" y="542.10" font-size="7.8" text-anchor="middle">0</text>
<text x="148.40" y="531.10" font-size="7.8" text-anchor="middle">2</text>
<text x="148.40" y="542.10" font-size="7.8" text-anchor="middle">0</text>
<text x="182.90" y="385.50" font-size="11.6" font-weight="bold" fill="#000" style="stroke:#000;stroke-width:0.35px">H</text>
<text x="229.10" y="391.90" font-size="9.6" textLength="87.00" lengthAdjust="spacingAndGlyphs">CD11c+ monocytes</text>
<line x1="212.50" y1="390.60" x2="212.50" y2="481.60" stroke="#333333" stroke-width="1"/>
<line x1="212.00" y1="481.10" x2="332.50" y2="481.10" stroke="#333333" stroke-width="1"/>
<line x1="209.50" y1="477.10" x2="212.50" y2="477.10" stroke="#333333" stroke-width="1"/>
<text x="206.50" y="479.90" font-size="8.0" text-anchor="end">0</text>
<line x1="209.50" y1="460.70" x2="212.50" y2="460.70" stroke="#333333" stroke-width="1"/>
<text x="206.50" y="463.50" font-size="8.0" text-anchor="end">0.2</text>
<line x1="209.50" y1="444.30" x2="212.50" y2="444.30" stroke="#333333" stroke-width="1"/>
<text x="206.50" y="447.10" font-size="8.0" text-anchor="end">0.4</text>
<line x1="209.50" y1="427.90" x2="212.50" y2="427.90" stroke="#333333" stroke-width="1"/>
<text x="206.50" y="430.70" font-size="8.0" text-anchor="end">0.6</text>
<line x1="209.50" y1="411.50" x2="212.50" y2="411.50" stroke="#333333" stroke-width="1"/>
<text x="206.50" y="414.30" font-size="8.0" text-anchor="end">0.8</text>
<line x1="209.50" y1="395.10" x2="212.50" y2="395.10" stroke="#333333" stroke-width="1"/>
<text x="206.50" y="397.90" font-size="8.0" text-anchor="end">1.0</text>
<line x1="219.40" y1="481.10" x2="219.40" y2="484.10" stroke="#333333" stroke-width="1"/>
<text x="219.40" y="494.90" font-size="8.0" text-anchor="middle">0</text>
<line x1="240.00" y1="481.10" x2="240.00" y2="484.10" stroke="#333333" stroke-width="1"/>
<text x="240.00" y="494.90" font-size="8.0" text-anchor="middle">12</text>
<line x1="260.60" y1="481.10" x2="260.60" y2="484.10" stroke="#333333" stroke-width="1"/>
<text x="260.60" y="494.90" font-size="8.0" text-anchor="middle">24</text>
<line x1="281.20" y1="481.10" x2="281.20" y2="484.10" stroke="#333333" stroke-width="1"/>
<text x="281.20" y="494.90" font-size="8.0" text-anchor="middle">36</text>
<line x1="301.80" y1="481.10" x2="301.80" y2="484.10" stroke="#333333" stroke-width="1"/>
<text x="301.80" y="494.90" font-size="8.0" text-anchor="middle">48</text>
<line x1="322.40" y1="481.10" x2="322.40" y2="484.10" stroke="#333333" stroke-width="1"/>
<text x="322.40" y="494.90" font-size="8.0" text-anchor="middle">60</text>
<text x="0.00" y="0.00" font-size="9.5" text-anchor="middle" textLength="45.20" lengthAdjust="spacingAndGlyphs" style="stroke-width:0.22px" transform="translate(189.20 435.70) rotate(-90)">Overall survival</text>
<text x="257.00" y="508.80" font-size="9.6" textLength="44.20" lengthAdjust="spacingAndGlyphs" style="stroke-width:0.3px">Time (months)</text>
<text x="306.40" y="417.30" font-size="7.2" textLength="33.90" lengthAdjust="spacingAndGlyphs" fill="#1a1a1a"><tspan font-style="italic">P</tspan> <tspan style="stroke-width:0.7px">=</tspan> 0.262</text>
<text x="295.40" y="449.60" font-size="7.2" textLength="22.00" lengthAdjust="spacingAndGlyphs">&gt; 15.5</text>
<text x="231.50" y="468.75" font-size="7.2" textLength="22.00" lengthAdjust="spacingAndGlyphs">≤ 15.5</text>
<path d="M219.50 395.00H219.50V395.50H220.30V396.50H221.10V397.40H222.00V398.80H223.00V400.20H224.30V401.00H224.60V405.10H226.30V405.60H227.60V407.20H228.70V409.40H229.80V410.80H230.30V413.80H231.40V415.40H232.50V417.60H233.30V419.20H234.10V421.70H236.90V425.30H238.50V426.10H240.10V427.80H241.00V431.00H245.90V433.20H249.10V434.80H251.30V436.80H252.40V439.20H252.90V440.00H262.20V442.60H271.90V446.10H282.70V450.40H290.80V454.50H323.20V476.50h0.9" fill="none" stroke="#b0163e" stroke-width="1.4" stroke-linejoin="miter" stroke-linecap="square"/>
<path d="M219.50 395.00H220.50V395.00H220.80V396.90H221.10V399.10H222.40V399.60H222.40V403.40H224.10V403.70H224.30V407.20H225.20V407.80H225.20V412.40H229.50V417.30H231.20V428.60H239.30V434.30H241.00V440.00H246.40V449.00H251.90V458.30H257.80V467.30H324.20" fill="none" stroke="#21407f" stroke-width="1.4" stroke-linejoin="miter" stroke-linecap="square"/>
<text x="187.20" y="520.00" font-size="7.0" textLength="33.00" lengthAdjust="spacingAndGlyphs">No. at risk</text>
<line x1="187.10" y1="529.00" x2="199.90" y2="529.00" stroke="#b0163e" stroke-width="1.6"/>
<line x1="187.10" y1="540.00" x2="199.90" y2="540.00" stroke="#21407f" stroke-width="1.6"/>
<text x="219.40" y="531.10" font-size="7.8" text-anchor="middle">81</text>
<text x="219.40" y="542.10" font-size="7.8" text-anchor="middle">20</text>
<text x="240.00" y="531.10" font-size="7.8" text-anchor="middle">36</text>
<text x="240.00" y="542.10" font-size="7.8" text-anchor="middle">8</text>
<text x="260.60" y="531.10" font-size="7.8" text-anchor="middle">18</text>
<text x="260.60" y="542.10" font-size="7.8" text-anchor="middle">1</text>
<text x="281.20" y="531.10" font-size="7.8" text-anchor="middle">8</text>
<text x="281.20" y="542.10" font-size="7.8" text-anchor="middle">1</text>
<text x="301.80" y="531.10" font-size="7.8" text-anchor="middle">4</text>
<text x="301.80" y="542.10" font-size="7.8" text-anchor="middle">1</text>
<text x="322.40" y="531.10" font-size="7.8" text-anchor="middle">1</text>
<text x="322.40" y="542.10" font-size="7.8" text-anchor="middle">1</text>
</svg>
</body></html>
